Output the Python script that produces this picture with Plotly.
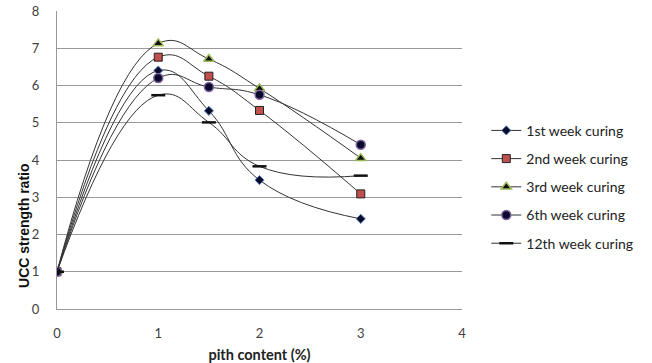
import plotly.graph_objects as go

pith = [0, 1, 1.5, 2, 3]
week1 = [1.0, 6.40, 5.32, 3.46, 2.42]
week2 = [1.0, 6.76, 6.25, 5.33, 3.09]
week3 = [1.0, 7.13, 6.71, 5.92, 4.05]
week6 = [1.0, 6.20, 5.96, 5.75, 4.41]
week12 = [1.0, 5.74, 5.01, 3.83, 3.58]
names = ["1st week curing", "2nd week curing", "3rd week curing",
         "6th week curing", "12th week curing"]

styles = [
    dict(symbol="diamond", size=7, color="#0a0a2a", line=dict(color="#4F81BD", width=1)),
    dict(symbol="square", size=8, color="#C0504D", line=dict(color="#222222", width=1)),
    dict(symbol="triangle-up", size=9, color="#111111", line=dict(color="#9BBB59", width=1.5)),
    dict(symbol="circle", size=9, color="#0a0a2a", line=dict(color="#8064A2", width=1.5)),
    dict(symbol="line-ew", size=10, color="#111111", line=dict(color="#111111", width=2.5)),
]

fig = go.Figure()
for i, (name, ys, mk) in enumerate(zip(names, [week1, week2, week3, week6, week12], styles)):
    fig.add_trace(go.Scatter(
        x=pith, y=ys, name=name, mode="lines+markers", legendgroup=f"g{i}",
        line=dict(color="#333333", width=1, shape="spline", smoothing=1.3),
        marker=mk,
    ))

font_family = "Lato, Open Sans, sans-serif"
fig.update_layout(
    width=652, height=363,
    margin=dict(l=57, r=190, t=11, b=54),
    paper_bgcolor="white", plot_bgcolor="white",
    font=dict(family=font_family, size=12, color="#404040"),
    showlegend=True,
    legend=dict(x=1.06, y=0.41, xanchor="left", yanchor="middle",
                font=dict(size=14, color="#222222"), tracegroupgap=7,
                itemsizing="trace", bgcolor="rgba(0,0,0,0)"),
    xaxis=dict(range=[0, 4], tickvals=[0, 1, 2, 3, 4], showgrid=False,
               zeroline=False, showline=True, linecolor="#999999", linewidth=1,
               ticks="", ticklabelstandoff=12, automargin=False,
               tickfont=dict(size=13, color="#404040"),
               title=dict(text="<b>pith content (%)</b>", standoff=10,
                          font=dict(size=14.5, color="#222222"))),
    yaxis=dict(range=[0, 8], tickvals=list(range(9)), showgrid=True,
               gridcolor="#999999", gridwidth=1, zeroline=False,
               showline=True, linecolor="#999999", linewidth=1, ticks="",
               ticklabelstandoff=14, automargin=False,
               tickfont=dict(size=13, color="#404040")),
    annotations=[dict(text="<b>UCC strength ratio</b>", textangle=-90,
                      xref="paper", yref="paper", x=-0.083, y=0.28,
                      xanchor="center", yanchor="middle", showarrow=False,
                      font=dict(family="Liberation Sans, Arial, sans-serif",
                                size=14, color="#111111"))],
)
fig.write_html("out.html")
